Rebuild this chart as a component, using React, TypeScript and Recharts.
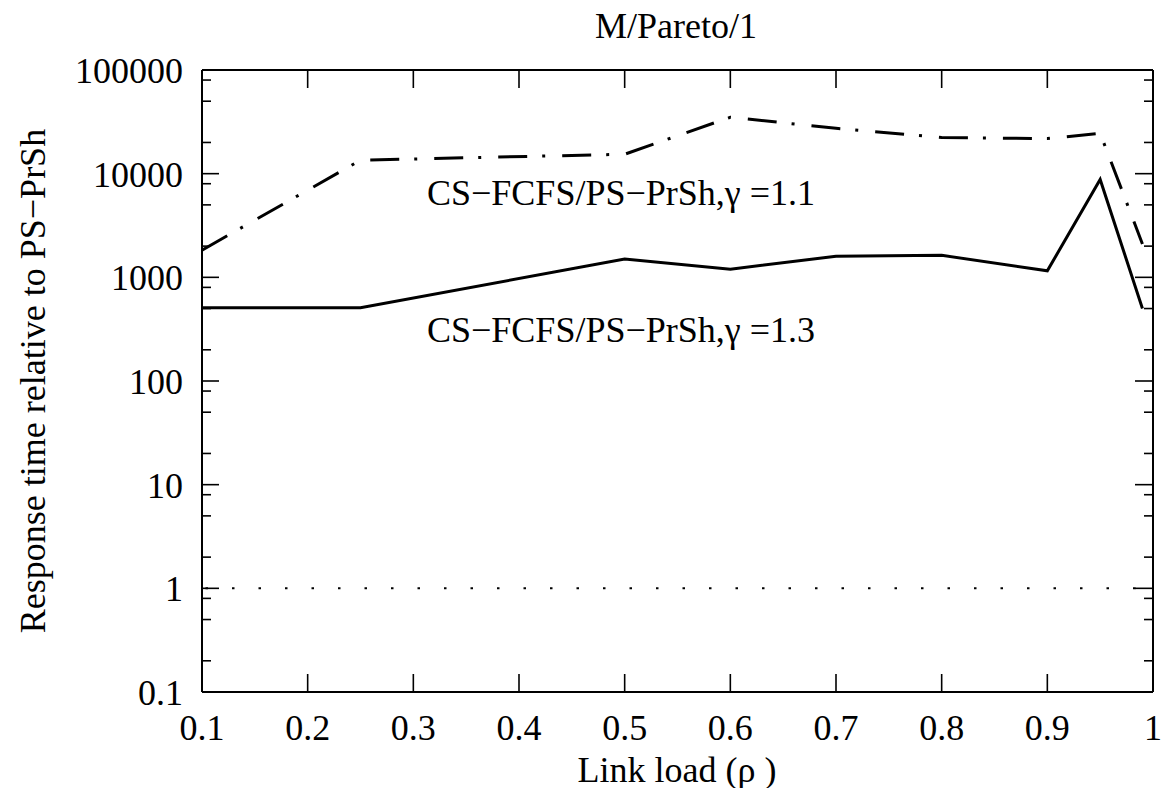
import React from "react";
import { LineChart, Line, XAxis, YAxis, ReferenceLine } from "recharts";

// ---- data ----
const loads = [0.1, 0.25, 0.5, 0.6, 0.7, 0.8, 0.9, 0.95, 0.99];
const gamma11 = [1830, 13500, 15400, 35000, 27400, 22300, 21800, 24500, 2100];
const gamma13 = [510, 510, 1500, 1200, 1600, 1630, 1155, 8800, 500];

const xTicks = [0.1, 0.2, 0.3, 0.4, 0.5, 0.6, 0.7, 0.8, 0.9, 1];
const xTickLabels = ["0.1", "0.2", "0.3", "0.4", "0.5", "0.6", "0.7", "0.8", "0.9", "1"];
const yMajorTicks = [0.1, 1, 10, 100, 1000, 10000, 100000];
const yMajorLabels = ["0.1", "1", "10", "100", "1000", "10000", "100000"];
const yMinorTicks = [
  0.2, 0.5, 0.8, 2, 5, 8, 20, 50, 80, 200, 500, 800, 2000, 5000, 8000, 20000, 50000, 80000,
];

const title = "M/Pareto/1";
const xLabel = "Link load (\u03c1 )";
const yLabel = "Response time relative to PS\u2212PrSh";
const label11 = "CS\u2212FCFS/PS\u2212PrSh,\u03b3 =1.1";
const label13 = "CS\u2212FCFS/PS\u2212PrSh,\u03b3 =1.3";

const data = loads.map((x, i) => ({ x, g11: gamma11[i], g13: gamma13[i] }));
const yAllTicks = [...yMajorTicks, ...yMinorTicks].sort((a, b) => a - b);

const FONT = '"Liberation Serif"';
const FS = 36;
const PLOT_H = 622; // layout: plot height in px (for mirrored top ticks)

const isMajor = (v: number) => yMajorTicks.some((m) => Math.abs(m - v) / m < 1e-6);
const yLabelFor = (v: number) => yMajorLabels[yMajorTicks.findIndex((m) => Math.abs(m - v) / m < 1e-6)];
const xLabelFor = (v: number) => xTickLabels[xTicks.findIndex((m) => Math.abs(m - v) < 1e-6)];

const txt = { fontSize: FS, fontFamily: FONT, fill: "#000" };

const LeftTick = (props: any) => {
  const { x, y, payload } = props;
  const v = payload.value;
  const major = isMajor(v);
  return (
    <g>
      <line x1={x} x2={x + (major ? 17 : 9)} y1={y} y2={y} stroke="#000" strokeWidth={1.6} />
      {major && (
        <text x={x - 19} y={y + 13} textAnchor="end" style={txt}>
          {yLabelFor(v)}
        </text>
      )}
    </g>
  );
};

const RightTick = (props: any) => {
  const { x, y, payload } = props;
  const major = isMajor(payload.value);
  return <line x1={x} x2={x - (major ? 18 : 9)} y1={y} y2={y} stroke="#000" strokeWidth={1.6} />;
};

const BottomTick = (props: any) => {
  const { x, y, payload } = props;
  const v = payload.value;
  const inner = v > 0.1 + 1e-6 && v < 1 - 1e-6;
  return (
    <g>
      {inner && <line x1={x} x2={x} y1={y} y2={y - 18} stroke="#000" strokeWidth={1.6} />}
      {inner && (
        <line x1={x} x2={x} y1={y - PLOT_H} y2={y - PLOT_H + 18} stroke="#000" strokeWidth={1.6} />
      )}
      <text x={x} y={y + 48} textAnchor="middle" style={txt}>
        {xLabelFor(v)}
      </text>
    </g>
  );
};

export default function App() {
  const axisLine = { stroke: "#000", strokeWidth: 2 };
  return (
    <div style={{ position: "absolute", left: 0, top: 0, width: 1170, height: 788, background: "#fff" }}>
      <LineChart width={1170} height={788} data={data} margin={{ top: 70, right: 7, bottom: 56, left: 102 }}>
        <XAxis
          dataKey="x"
          type="number"
          domain={[0.1, 1]}
          allowDataOverflow
          ticks={xTicks}
          interval={0}
          height={40}
          tickSize={0}
          tickMargin={0}
          tickLine={false}
          axisLine={axisLine}
          tick={<BottomTick />}
        />
        <YAxis
          type="number"
          scale="log"
          domain={[0.1, 100000]}
          allowDataOverflow
          ticks={yAllTicks}
          interval={0}
          width={100}
          tickSize={0}
          tickMargin={0}
          tickLine={false}
          axisLine={axisLine}
          tick={<LeftTick />}
        />
        <YAxis
          yAxisId="right"
          orientation="right"
          type="number"
          scale="log"
          domain={[0.1, 100000]}
          allowDataOverflow
          ticks={yAllTicks}
          interval={0}
          width={10}
          tickSize={0}
          tickMargin={0}
          tickLine={false}
          axisLine={axisLine}
          tick={<RightTick />}
        />
        <ReferenceLine y={100000} stroke="#000" strokeWidth={2} ifOverflow="extendDomain" />
        <ReferenceLine
          y={1}
          stroke="#000"
          strokeWidth={2}
          strokeDasharray="2.5 24"
          strokeDashoffset={23}
          ifOverflow="extendDomain"
        />
        <Line
          dataKey="g11"
          type="linear"
          stroke="#000"
          strokeWidth={3}
          strokeDasharray="29 15 3 17"
          dot={false}
          activeDot={false}
          isAnimationActive={false}
        />
        <Line
          dataKey="g13"
          type="linear"
          stroke="#000"
          strokeWidth={3}
          dot={false}
          activeDot={false}
          isAnimationActive={false}
        />
      </LineChart>
      <svg
        width={1170}
        height={788}
        style={{ position: "absolute", left: 0, top: 0, pointerEvents: "none" }}
      >
        <text x={676} y={38} textAnchor="middle" style={txt}>
          {title}
        </text>
        <text x={677} y={782} textAnchor="middle" style={txt}>
          {xLabel}
        </text>
        <text x={0} y={0} transform="translate(45,381) rotate(-90)" textAnchor="middle" style={txt}>
          {yLabel}
        </text>
        <text x={427} y={205} style={txt}>
          {label11}
        </text>
        <text x={427} y={342} style={txt}>
          {label13}
        </text>
      </svg>
    </div>
  );
}
